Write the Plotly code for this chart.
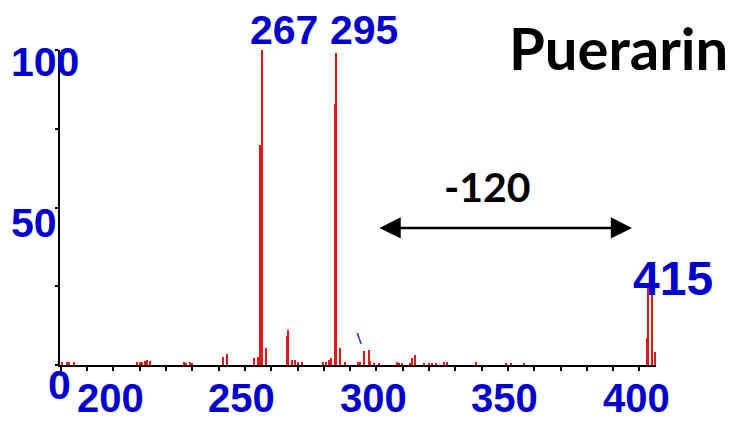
import plotly.graph_objects as go

# m/z values and relative intensities (%)
mz = [190.4, 192.3, 193.2, 195.0, 218.9, 220.2, 220.8, 222.0, 222.7, 224.0,
      237.0, 237.5, 239.2, 239.8, 251.8, 253.3, 263.6, 264.9, 266.0, 266.7,
      268.1, 275.9, 276.6, 277.8, 279.3, 280.1, 281.9, 289.6, 290.9, 292.1,
      292.9, 294.2, 294.8, 296.2, 298.1, 303.2, 303.8, 305.5, 307.2, 307.8,
      309.1, 311.0, 318.1, 318.7, 320.0, 322.8, 323.8, 324.6, 328.1, 329.9,
      331.2, 332.9, 335.7, 337.0, 347.9, 359.5, 361.1, 366.2, 412.8, 413.3,
      414.8, 416.1]
intensity = [0.9, 0.9, 0.9, 0.8, 0.9, 0.9, 0.9, 1.4, 1.6, 1.2,
             1.0, 0.7, 1.0, 0.7, 2.7, 3.6, 2.1, 2.6, 70.0, 100.0,
             5.4, 9.2, 11.0, 1.5, 1.5, 0.9, 0.8, 0.8, 0.8, 1.7,
             2.1, 83.0, 99.0, 5.4, 0.8, 0.8, 0.8, 4.3, 4.8, 1.2,
             0.7, 0.7, 1.0, 0.7, 0.7, 0.7, 2.1, 3.2, 0.7, 0.7,
             0.7, 0.7, 1.1, 1.1, 1.1, 0.7, 0.7, 0.7, 8.5, 26.0,
             26.0, 4.0]

x_ticks = [200, 250, 300, 350, 400]
x_tick_labels = ["200", "250", "300", "350", "400"]
y_ticks = [0, 50, 100]
y_tick_labels = ["0", "50", "100"]

peak_mz = [267, 295, 415]
peak_labels = ["267", "295", "415"]
peak_label_level = [100, 100, 26]

loss_label = "-120"
loss_from = 310.6
loss_to = 407.2
loss_level = 43.5

title_text = "Puerarin"

BLUE = "#0000cc"
RED = "#e01818"

fig = go.Figure()
fig.add_trace(go.Bar(x=mz, y=intensity, width=0.55,
                     marker=dict(color=RED, line=dict(width=0)),
                     hoverinfo="x+y"))

fig.update_layout(
    width=734, height=421,
    margin=dict(l=60, r=78, t=50, b=56),
    paper_bgcolor="white", plot_bgcolor="white",
    showlegend=False,
    bargap=0,
)
fig.update_xaxes(range=[189.7, 416.3], showgrid=False, zeroline=False,
                 showline=True, linecolor="black", linewidth=2,
                 ticks="outside", tickcolor="black", ticklen=4, tickwidth=1.5,
                 tick0=190, dtick=10, showticklabels=False)
fig.update_yaxes(range=[0, 100], showgrid=False, zeroline=False,
                 showline=True, linecolor="black", linewidth=2,
                 ticks="outside", tickcolor="black", ticklen=3, tickwidth=1.5,
                 tick0=0, dtick=25, showticklabels=False)

FONT = "Liberation Sans, Arial, sans-serif"
tick_font = dict(family=FONT, size=41, color=BLUE)

ann = []
for v, t in zip(x_ticks, x_tick_labels):
    ann.append(dict(x=v, y=0, xref="x", yref="y", text="<b>%s</b>" % t,
                    showarrow=False, font=dict(family=FONT, size=40, color=BLUE),
                    xanchor="center", yanchor="middle", xshift=23, yshift=-33))
# y tick labels
ann.append(dict(x=0, y=100, xref="paper", yref="y", text="<b>%s</b>" % y_tick_labels[2],
                showarrow=False, font=tick_font, xanchor="left", yanchor="middle",
                xshift=-51, yshift=-12))
ann.append(dict(x=0, y=50, xref="paper", yref="y", text="<b>%s</b>" % y_tick_labels[1],
                showarrow=False, font=tick_font, xanchor="left", yanchor="middle",
                xshift=-51, yshift=-15))
ann.append(dict(x=0, y=0, xref="paper", yref="y", text="<b>%s</b>" % y_tick_labels[0],
                showarrow=False, font=tick_font, xanchor="left", yanchor="middle",
                xshift=-14, yshift=-20))

label_xshift = [21, 27, 20]
label_yshift = [-5, -5, -24]
label_size = [41, 41, 48]
for v, t, lv, xs, ys, sz in zip(peak_mz, peak_labels, peak_label_level,
                                label_xshift, label_yshift, label_size):
    ann.append(dict(x=v, y=lv, xref="x", yref="y", text="<b>%s</b>" % t,
                    showarrow=False, font=dict(family=FONT, size=sz, color=BLUE),
                    xanchor="center", yanchor="bottom", xshift=xs, yshift=ys))

# double-headed arrow for the neutral loss
ann.append(dict(x=loss_to, y=loss_level, ax=loss_from, ay=loss_level,
                xref="x", yref="y", axref="x", ayref="y", text="",
                showarrow=True, arrowhead=2, startarrowhead=2, arrowside="end+start",
                arrowsize=1.7, startarrowsize=1.7, arrowwidth=2.5, arrowcolor="black"))
ann.append(dict(x=(loss_from + loss_to) / 2 - 6.8, y=56.8, xref="x", yref="y",
                text="<b>%s</b>" % loss_label, showarrow=False,
                font=dict(family="Lato, sans-serif", size=41, color="black"),
                xanchor="center", yanchor="middle"))

ann.append(dict(x=(618 - 60) / 596, y=(365 - 47) / 315, xref="paper", yref="paper",
                text="<b>%s</b>" % title_text, showarrow=False,
                font=dict(family="Lato, sans-serif", size=58, color="black"),
                xanchor="center", yanchor="middle"))

fig.update_layout(annotations=ann)

# small blue mark near m/z 303
fig.add_shape(type="line", x0=302.7, y0=10.2, x1=304.2, y1=6.7, xref="x", yref="y",
              line=dict(color="#3333ee", width=1.5))

fig.write_html("out.html")
